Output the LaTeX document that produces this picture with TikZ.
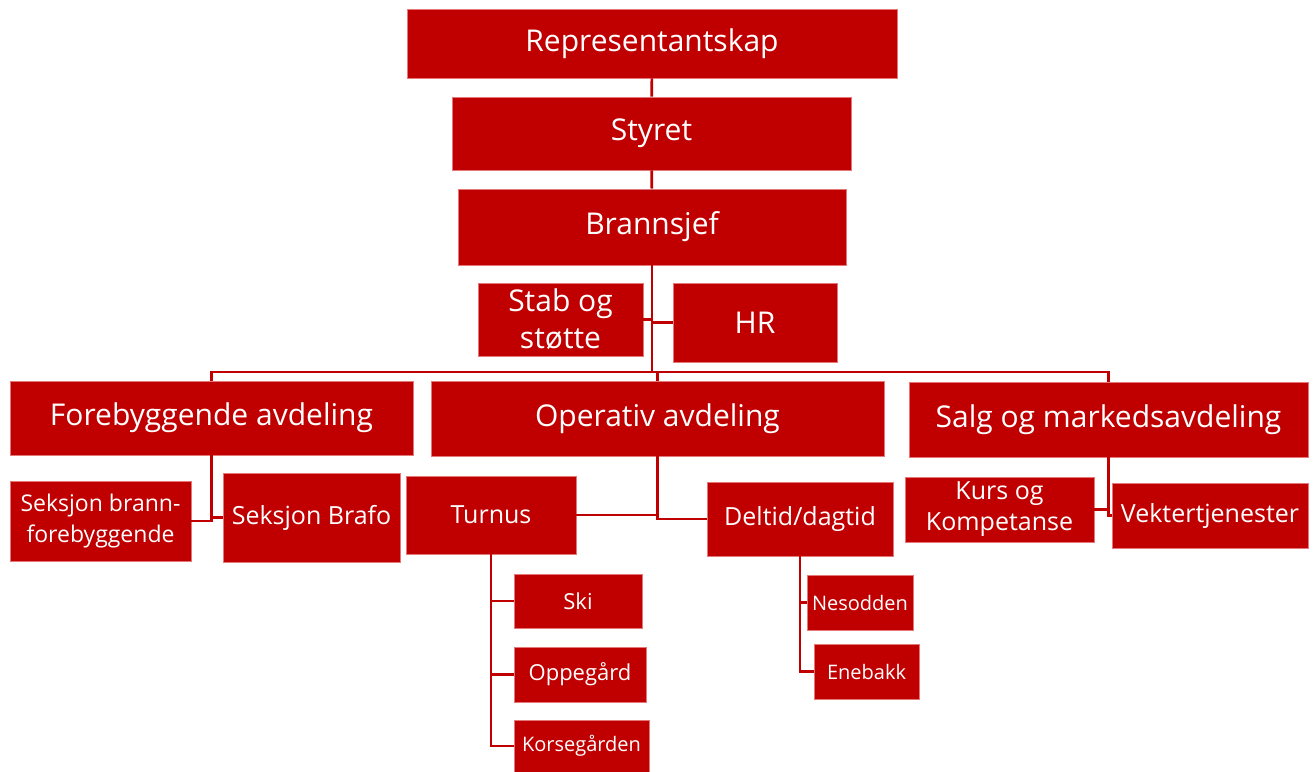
\documentclass[tikz,border=0pt]{standalone}
\usepackage{fontspec}
\setmainfont{Open Sans}
\definecolor{orgred}{RGB}{192,0,0}
\definecolor{orgedge}{RGB}{228,120,120}

\begin{document}
\begin{tikzpicture}[x=1pt, y=-1pt,
  every node/.style={fill=orgred, draw=orgedge, line width=0.6pt, text=white, inner sep=0pt, align=center},
  big/.style={font=\fontsize{30}{34}\selectfont},
  mid/.style={font=\fontsize{25}{31}\selectfont},
  small/.style={font=\fontsize{22}{26}\selectfont},
  tiny/.style={font=\fontsize{20}{24}\selectfont},
  link/.style={draw=orgred, line width=2.6pt}]
\useasboundingbox (0,0) rectangle (1314,771);
% top of the chart
\node[big, minimum width=490pt, minimum height=69pt] (L0N0) at (652,43.5) {Representantskap};
\node[big, minimum width=399pt, minimum height=73pt] (L0N1) at (651.5,133.5) {Styret};
\node[big, minimum width=388pt, minimum height=76pt] (L0N2) at (652,227) {Brannsjef};
\node[font=\fontsize{30}{37}\selectfont, minimum width=165pt, minimum height=73pt] (S0N0) at (560.5,319.5) {Stab og\\støtte};
\node[font=\fontsize{30}{37}\selectfont, minimum width=164pt, minimum height=79pt] (S0N1) at (755,322.5) {HR};
% departments
\node[big, minimum width=403pt, minimum height=74pt] (L1N0) at (211.5,418) {Forebyggende avdeling};
\node[big, minimum width=453pt, minimum height=75pt] (L1N1) at (657.5,418.5) {Operativ avdeling};
\node[big, minimum width=399pt, minimum height=75pt] (L1N2) at (1108.5,419.5) {Salg og markedsavdeling};
% sections
\node[font=\fontsize{23}{31}\selectfont, minimum width=181pt, minimum height=80pt] (L2N0) at (100.5,521) {Seksjon brann-\\forebyggende};
\node[mid, minimum width=177pt, minimum height=89pt] (L2N1) at (311.5,517.5) {Seksjon Brafo};
\node[mid, minimum width=170pt, minimum height=78pt] (L2N2) at (491,515) {Turnus};
\node[mid, minimum width=186pt, minimum height=74pt] (L2N3) at (800,519) {Deltid/dagtid};
\node[mid, minimum width=189pt, minimum height=65pt] (L2N4) at (999.5,509.5) {Kurs og\\Kompetanse};
\node[mid, minimum width=196pt, minimum height=65pt] (L2N5) at (1210,515.5) {Vektertjenester};
% stations
\node[small, minimum width=128pt, minimum height=54pt] (L3N0) at (578,601) {Ski};
\node[small, minimum width=132pt, minimum height=55pt] (L3N1) at (580,674.5) {Oppegård};
\node[tiny, minimum width=135pt, minimum height=52pt] (L3N2) at (581.5,746) {Korsegården};
\node[tiny, minimum width=106pt, minimum height=55pt] (L3N3) at (860,602.5) {Nesodden};
\node[tiny, minimum width=105pt, minimum height=55pt] (L3N4) at (866.5,671.5) {Enebakk};
\coordinate (B0) at (652,372);
% connectors
\draw[link] (L0N0) -- (L0N1);
\draw[link] (L0N1) -- (L0N2);
\draw[link] (L0N2.south) -- (B0);
\draw[link] (L0N2.south) |- (S0N0.east);
\draw[link] (L0N2.south) |- (S0N1.west);
\draw[link] (L1N0.north) |- (B0) -| (L1N2.north);
\draw[link] (B0) -| (L1N1.north);
\draw[link] (L1N0.south) |- (L2N0.east);
\draw[link] (L1N0.south) |- (L2N1.west);
\draw[link] (L1N1.south) |- (L2N2.east);
\draw[link] (L1N1.south) |- (L2N3.west);
\draw[link] (L1N2.south) |- (L2N4.east);
\draw[link] (L1N2.south) |- (L2N5.west);
\draw[link] (L2N2.south) |- (L3N0.west);
\draw[link] (L2N2.south) |- (L3N1.west);
\draw[link] (L2N2.south) |- (L3N2.west);
\draw[link] (L2N3.south) |- (L3N3.west);
\draw[link] (L2N3.south) |- (L3N4.west);
\end{tikzpicture}
\end{document}
